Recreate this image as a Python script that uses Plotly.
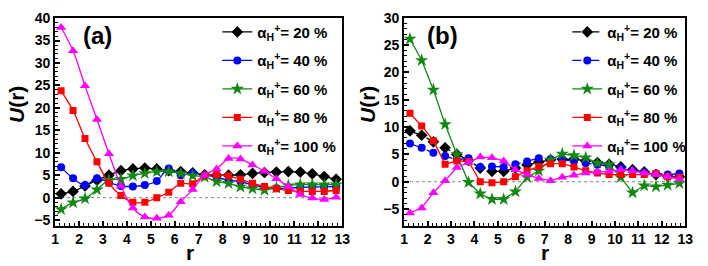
import plotly.graph_objects as go

r = [1.25, 1.75, 2.25, 2.75, 3.25, 3.75, 4.25, 4.75, 5.25, 5.75, 6.25, 6.75,
     7.25, 7.75, 8.25, 8.75, 9.25, 9.75, 10.25, 10.75, 11.25, 11.75, 12.25, 12.75]

labels = ["20", "40", "60", "80", "100"]
colors = ["#000000", "#0000FF", "#118811", "#FF0000", "#FF00FF"]
symbols = ["diamond", "circle", "star", "square", "triangle-up"]
sizes = [9, 8, 10, 7, 9]

# panel (a)
a20 = [0.85, 1.4, 2.6, 3.9, 5.0, 6.0, 6.4, 6.6, 6.4, 6.0, 5.8, 5.5,
       5.1, 5.0, 5.0, 5.1, 5.4, 5.6, 5.7, 5.8, 5.7, 5.3, 4.7, 4.1]
a40 = [6.8, 4.3, 2.8, 4.3, 3.4, 2.6, 2.5, 2.8, 3.7, 6.5, 5.0, 5.5,
       5.0, 4.6, 3.9, 3.6, 2.8, 2.3, 2.1, 2.1, 2.3, 2.4, 2.4, 2.5]
a60 = [-2.6, -1.1, -0.2, 1.8, 3.9, 4.1, 4.9, 5.4, 5.8, 5.8, 5.4, 4.9,
       4.6, 3.6, 3.2, 2.4, 2.0, 1.7, 2.2, 2.7, 2.9, 2.9, 2.9, 2.9]
a80 = [23.8, 19.4, 13.2, 8.0, 3.2, 0.5, -1.0, -1.0, 0.0, 1.2, 3.2, 3.1,
       5.0, 5.1, 4.8, 4.1, 3.2, 2.5, 2.0, 1.6, 1.4, 1.4, 1.4, 1.6]
a100 = [37.9, 32.7, 24.9, 17.4, 9.8, 2.6, -2.3, -4.3, -4.6, -3.9, -0.9, 1.8,
        5.0, 6.4, 8.7, 8.6, 7.3, 5.9, 4.2, 2.5, 0.7, -0.1, -0.4, 0.1]

# panel (b)
b20 = [9.3, 8.5, 7.3, 6.2, 5.0, 3.9, 2.5, 1.9, 1.9, 2.5, 3.1, 3.6,
       4.0, 4.1, 4.1, 3.8, 3.5, 3.2, 2.7, 2.2, 1.8, 1.3, 1.0, 0.9]
b40 = [7.0, 6.2, 5.3, 4.7, 4.0, 4.3, 2.7, 2.8, 2.7, 3.2, 3.7, 4.3,
       4.1, 4.0, 3.8, 3.4, 3.1, 2.8, 2.5, 2.0, 1.7, 1.5, 1.3, 1.5]
b60 = [26.1, 22.2, 16.8, 10.5, 5.0, -0.1, -2.2, -3.2, -3.2, -1.8, 0.8, 2.0,
       4.0, 5.1, 4.8, 4.4, 3.4, 3.1, 0.8, -2.0, -0.7, -0.9, -0.6, -0.3]
b80 = [12.5, 10.2, 7.5, 3.2, 3.8, 3.7, 0.0, -0.2, 0.0, 0.9, 2.0, 2.8,
       3.3, 3.3, 2.7, 2.0, 1.6, 1.3, 1.3, 1.3, 1.3, 1.5, 0.9, 0.8]
b100 = [-5.7, -4.8, -2.0, 0.2, 2.6, 3.5, 4.5, 4.4, 3.8, 2.2, 1.3, 0.6,
        0.2, 0.8, 1.2, 1.6, 1.8, 1.9, 2.2, 2.0, 1.6, 1.3, 0.9, 0.5]

panel_a = [a20, a40, a60, a80, a100]
panel_b = [b20, b40, b60, b80, b100]
dash_a = ["solid"] * 5
dash_b = ["dash", "dash", "solid", "solid", "solid"]

W, H = 708, 266


def px(x):
    return x / W


def py(y):
    return 1 - y / H


xa = [px(52), px(344)]
xb = [px(407), px(693)]
yd = [py(226), py(10)]

fig = go.Figure()
for i in range(5):
    name = "α<sub>H</sub><sup>+</sup>= " + labels[i] + " %"
    fig.add_trace(go.Scatter(
        x=r, y=panel_a[i], mode="lines+markers", name=name, legendgroup="a" + labels[i],
        line=dict(color=colors[i], width=1.3, shape="spline", dash=dash_a[i]),
        marker=dict(symbol=symbols[i], size=sizes[i], color=colors[i]),
        xaxis="x", yaxis="y", legend="legend"))
for i in range(5):
    name = "α<sub>H</sub><sup>+</sup>= " + labels[i] + " %"
    fig.add_trace(go.Scatter(
        x=r, y=panel_b[i], mode="lines+markers", name=name, legendgroup="b" + labels[i],
        line=dict(color=colors[i], width=1.3, dash=dash_b[i]),
        marker=dict(symbol=symbols[i], size=sizes[i], color=colors[i]),
        xaxis="x2", yaxis="y2", legend="legend2"))

font = dict(family="Liberation Sans, Arial", size=14, color="black", weight="bold")
axis_common = dict(showline=True, linewidth=2, linecolor="black", mirror=True,
                   ticks="inside", ticklen=5, tickwidth=1.5, tickcolor="black",
                   showgrid=False, zeroline=False, tickfont=font,
                   ticklabeloverflow="allow",
                   minor=dict(ticks="inside", ticklen=3, tickwidth=1, tickcolor="black"))

legfont = dict(family="Liberation Sans, Arial", size=15, color="black", weight="bold")
fig.update_layout(
    width=W, height=H, margin=dict(l=0, r=0, t=0, b=0),
    plot_bgcolor="white", paper_bgcolor="white",
    xaxis=dict(domain=xa, range=[1, 13], dtick=1, anchor="y", **axis_common),
    yaxis=dict(domain=yd, range=[-6.2, 40.1], dtick=5, anchor="x", **axis_common),
    xaxis2=dict(domain=xb, range=[1, 13], dtick=1, anchor="y2", **axis_common),
    yaxis2=dict(domain=yd, range=[-8, 30], dtick=5, anchor="x2", **axis_common),
    legend=dict(x=px(217), xanchor="left", y=py(8), yanchor="top",
                bgcolor="rgba(0,0,0,0)", font=legfont, tracegroupgap=6, itemwidth=30),
    legend2=dict(x=px(573), xanchor="left", y=py(8), yanchor="top",
                 bgcolor="rgba(0,0,0,0)", font=legfont, tracegroupgap=6, itemwidth=30),
    showlegend=True,
)

for xr, yr in (("x domain", "y"), ("x2 domain", "y2")):
    fig.add_shape(type="line", xref=xr, yref=yr, x0=0, x1=1, y0=0, y1=0,
                  line=dict(color="gray", width=1, dash="dot"), layer="below")

big = dict(family="Liberation Sans, Arial", color="black", weight="bold")
ann = [
    dict(text="(a)", x=px(95), y=py(29), size=24),
    dict(text="(b)", x=px(446), y=py(29), size=24),
    dict(text="r", x=px(189), y=py(254), size=21),
    dict(text="r", x=px(550), y=py(254), size=21),
]
for a in ann:
    fig.add_annotation(text=a["text"], x=a["x"], y=a["y"], xref="paper", yref="paper",
                       showarrow=False, xanchor="center", yanchor="middle",
                       font=dict(size=a["size"], **big))
for xpix in (12, 370):
    fig.add_annotation(text="<i>U</i>(r)", x=px(xpix), y=py(100), xref="paper",
                       yref="paper", showarrow=False, textangle=-90,
                       xanchor="center", yanchor="middle", font=dict(size=21, **big))

# remove the browser's default 8 px body margin so the figure fills the window
fig.write_html("out.html", config={"displayModeBar": False},
               post_script="document.body.style.margin='0';")
